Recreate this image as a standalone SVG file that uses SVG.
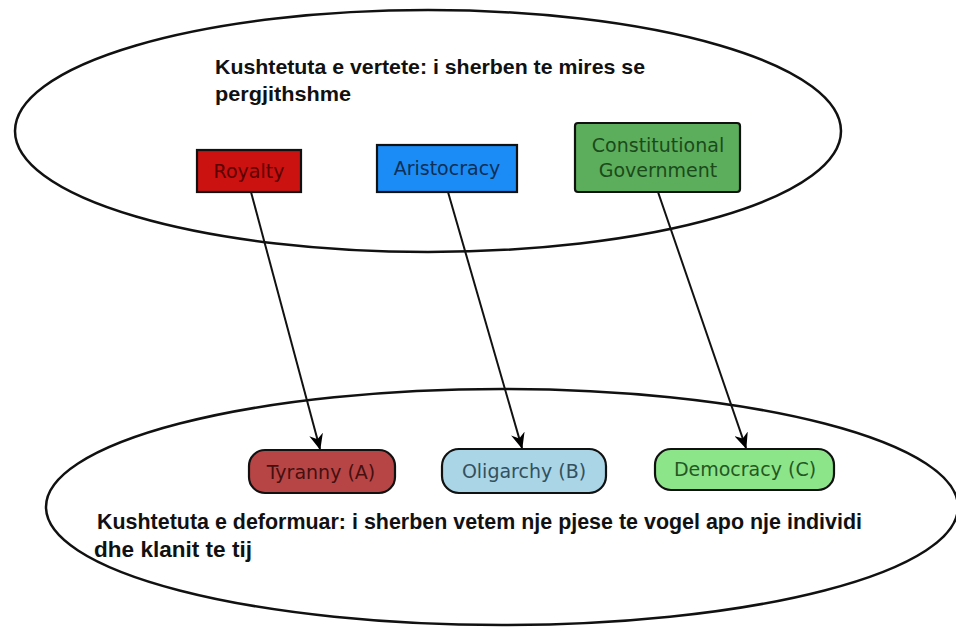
<svg xmlns="http://www.w3.org/2000/svg" width="956" height="629" viewBox="0 0 956 629">
  <defs>
    <marker id="arrow" viewBox="0 0 16 14" refX="15" refY="7" markerWidth="16" markerHeight="14" markerUnits="userSpaceOnUse" orient="auto">
      <path d="M0,0 L16,7 L0,14 L5,7 z" fill="#000"/>
    </marker>
    <style>
      .region { fill: none; stroke: #111; stroke-width: 2.5; }
      .box { stroke: #111; stroke-width: 2.2; }
      .pill { stroke: #111; stroke-width: 2.2; }
      .lbl { font-family: "DejaVu Sans", "Liberation Sans", sans-serif; font-size: 19px; text-anchor: middle; }
      .title { font-family: "Liberation Sans", Arial, sans-serif; font-weight: bold; fill: #111; }
      .edge { stroke: #111; stroke-width: 2; fill: none; marker-end: url(#arrow); }
    </style>
  </defs>
  <rect x="0" y="0" width="956" height="629" fill="#fff"/>

  <g id="region-top">
    <ellipse class="region" cx="428" cy="131" rx="413" ry="121"/>
    <text class="title" x="215" y="74" font-size="20.5" textLength="430" lengthAdjust="spacingAndGlyphs">Kushtetuta e vertete: i sherben te mires se</text>
    <text class="title" x="215" y="101" font-size="20.5" textLength="136" lengthAdjust="spacingAndGlyphs">pergjithshme</text>
  </g>

  <g id="region-bottom">
    <ellipse class="region" cx="502" cy="507" rx="456" ry="118"/>
    <text class="title" x="97" y="529" font-size="21.5" textLength="765" lengthAdjust="spacingAndGlyphs">Kushtetuta e deformuar: i sherben vetem nje pjese te vogel apo nje individi</text>
    <text class="title" x="94" y="557" font-size="21.5" textLength="158" lengthAdjust="spacingAndGlyphs">dhe klanit te tij</text>
  </g>

  <g id="connectors">
    <line class="edge" x1="251" y1="192" x2="320" y2="449"/>
    <line class="edge" x1="448" y1="192" x2="522" y2="448"/>
    <line class="edge" x1="658" y1="192" x2="746" y2="448"/>
  </g>

  <g id="royalty">
    <rect class="box" x="197" y="150" width="104" height="42" fill="#cc1111"/>
    <text class="lbl" x="249" y="178" fill="#5a0000">Royalty</text>
  </g>
  <g id="aristocracy">
    <rect class="box" x="377" y="145" width="140" height="47" fill="#1b8cf5"/>
    <text class="lbl" x="447" y="175" fill="#0f2f55">Aristocracy</text>
  </g>
  <g id="constitutional-government">
    <rect class="box" x="575" y="123" width="165" height="69" rx="3" fill="#5cae5c"/>
    <text class="lbl" x="658" y="152" fill="#1b4a1b">Constitutional</text>
    <text class="lbl" x="658" y="177" fill="#1b4a1b">Government</text>
  </g>

  <g id="tyranny">
    <rect class="pill" x="249" y="450" width="146" height="43" rx="16" fill="#b84545"/>
    <text class="lbl" x="321" y="479" fill="#451010">Tyranny (A)</text>
  </g>
  <g id="oligarchy">
    <rect class="pill" x="442" y="449" width="164" height="44" rx="17" fill="#a9d5e7"/>
    <text class="lbl" x="524" y="478" fill="#34505c">Oligarchy (B)</text>
  </g>
  <g id="democracy">
    <rect class="pill" x="655" y="449" width="179" height="41" rx="16" fill="#8de58a"/>
    <text class="lbl" x="745" y="476" fill="#245824">Democracy (C)</text>
  </g>
</svg>
